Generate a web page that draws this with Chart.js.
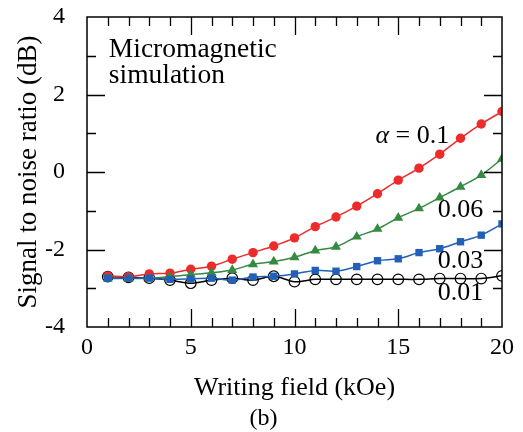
<!DOCTYPE html>
<html>
<head>
<meta charset="utf-8">
<script src="https://cdn.jsdelivr.net/npm/chart.js@4/dist/chart.umd.min.js"></script>
<style>
  html, body { margin: 0; padding: 0; background: #fff; }
  #wrap { width: 523px; height: 432px; }
</style>
</head>
<body>
<div id="wrap"><canvas id="c" width="523" height="432"></canvas></div>
<script>
// Writing field (kOe)
const fields = [1, 2, 3, 4, 5, 6, 7, 8, 9, 10, 11, 12, 13, 14, 15, 16, 17, 18, 19, 20];

// Signal to noise ratio (dB) for each damping constant
const snrAlpha010 = [-2.68, -2.70, -2.63, -2.61, -2.51, -2.43, -2.25, -2.08, -1.91, -1.70,
                     -1.41, -1.16, -0.88, -0.56, -0.21, 0.10, 0.46, 0.87, 1.24, 1.56];
const snrAlpha006 = [-2.75, -2.75, -2.74, -2.70, -2.65, -2.60, -2.53, -2.38, -2.31, -2.20,
                     -2.03, -1.93, -1.67, -1.47, -1.18, -0.94, -0.66, -0.38, -0.08, 0.34];
const snrAlpha003 = [-2.74, -2.74, -2.74, -2.77, -2.76, -2.74, -2.79, -2.71, -2.69, -2.63,
                     -2.54, -2.56, -2.44, -2.29, -2.24, -2.08, -1.98, -1.80, -1.63, -1.34];
const snrAlpha001 = [-2.70, -2.72, -2.74, -2.79, -2.87, -2.79, -2.74, -2.79, -2.69, -2.83,
                     -2.77, -2.77, -2.77, -2.77, -2.77, -2.77, -2.75, -2.75, -2.75, -2.68];

// Axis ranges and labelled tick values
const xRange = [0, 20];
const yRange = [-4, 4];
const xTickLabels = [0, 5, 10, 15, 20];
const yTickLabels = [-4, -2, 0, 2, 4];

// Curve labels: text and anchor (field, dB)
const curveLabels = [
  { parts: [['α', true], [' = 0.1', false]], at: [13.9, 0.75] },
  { parts: [['0.06', false]], at: [16.9, -1.17] },
  { parts: [['0.03', false]], at: [16.9, -2.49] },
  { parts: [['0.01', false]], at: [16.9, -3.30] }
];
const noteLines = ['Micromagnetic', 'simulation'];
const noteAt = [1.05, 2.97];
const panelTag = '(b)';

const SERIF = '"Liberation Serif", "Times New Roman", serif';
const RED = '#ee2b2b';
const GREEN = '#348a3f';
const BLUE = '#2160b6';
const BLACK = '#000000';

const toPoints = ys => fields.map((x, i) => ({ x: x, y: ys[i] }));

// Box frame with inward ticks on all four sides, plus text annotations
const framePlugin = {
  id: 'frame',
  afterDatasetsDraw(chart) {
    const { ctx, chartArea: a, scales } = chart;
    const xs = scales.x, ys = scales.y;
    ctx.save();
    ctx.strokeStyle = '#000';
    ctx.lineWidth = 1.5;
    ctx.strokeRect(a.left, a.top, a.right - a.left, a.bottom - a.top);
    ctx.lineWidth = 1.3;
    ctx.beginPath();
    for (let v = xRange[0] + 1; v < xRange[1]; v++) {
      const px = Math.round(xs.getPixelForValue(v)) + 0.5;
      const len = v % 5 === 0 ? 18 : 9;
      ctx.moveTo(px, a.bottom); ctx.lineTo(px, a.bottom - len);
      ctx.moveTo(px, a.top); ctx.lineTo(px, a.top + len);
    }
    for (let v = yRange[0] + 1; v < yRange[1]; v++) {
      const py = Math.round(ys.getPixelForValue(v)) + 0.5;
      const len = v % 2 === 0 ? 18 : 9;
      ctx.moveTo(a.left, py); ctx.lineTo(a.left + len, py);
      ctx.moveTo(a.right, py); ctx.lineTo(a.right - len, py);
    }
    ctx.stroke();

    ctx.fillStyle = '#000';
    ctx.textBaseline = 'alphabetic';
    ctx.textAlign = 'left';
    // note in the upper left corner
    ctx.font = '27.5px ' + SERIF;
    noteLines.forEach((t, i) => {
      ctx.fillText(t, xs.getPixelForValue(noteAt[0]), ys.getPixelForValue(noteAt[1]) + i * 26);
    });
    // damping constant labels beside each curve
    curveLabels.forEach(lab => {
      let px = xs.getPixelForValue(lab.at[0]);
      const py = ys.getPixelForValue(lab.at[1]);
      lab.parts.forEach(([t, italic]) => {
        ctx.font = (italic ? 'italic ' : '') + '26px ' + SERIF;
        ctx.fillText(t, px, py);
        px += ctx.measureText(t).width;
      });
    });
    // panel tag under the axis title
    ctx.textAlign = 'center';
    ctx.font = '24px ' + SERIF;
    ctx.fillText(panelTag, chart.width / 2 + 2, chart.height - 7);
    ctx.restore();
  }
};

// Let the layout padding alone decide the plot margins
const noEdgePadding = scale => {
  scale.paddingTop = 0; scale.paddingBottom = 0;
  scale.paddingLeft = 0; scale.paddingRight = 0;
};

new Chart(document.getElementById('c'), {
  type: 'line',
  data: {
    datasets: [
      {
        label: 'α = 0.03', data: toPoints(snrAlpha003), order: 0,
        borderColor: BLUE, backgroundColor: BLUE, borderWidth: 1.5,
        pointStyle: 'rect', pointRadius: 5.2, pointBorderWidth: 0, tension: 0.35
      },
      {
        label: 'α = 0.06', data: toPoints(snrAlpha006), order: 1,
        borderColor: GREEN, backgroundColor: GREEN, borderWidth: 1.5,
        pointStyle: 'triangle', pointRadius: 5.8, pointBorderWidth: 0, tension: 0.35
      },
      {
        label: 'α = 0.1', data: toPoints(snrAlpha010), order: 2,
        borderColor: RED, backgroundColor: RED, borderWidth: 1.5,
        pointStyle: 'circle', pointRadius: 4.7, pointBorderWidth: 0, tension: 0.35
      },
      {
        label: 'α = 0.01', data: toPoints(snrAlpha001), order: 3,
        borderColor: BLACK, backgroundColor: 'rgba(0,0,0,0)', borderWidth: 1.5,
        pointStyle: 'circle', pointRadius: 5.3, pointBorderWidth: 1.2, tension: 0.3
      }
    ]
  },
  options: {
    responsive: false,
    animation: false,
    devicePixelRatio: 1,
    layout: { padding: { left: 0, right: 21, top: 17, bottom: 28 } },
    plugins: {
      legend: { display: false },
      tooltip: { enabled: false },
      title: { display: false }
    },
    scales: {
      x: {
        type: 'linear', min: xRange[0], max: xRange[1],
        afterFit: noEdgePadding,
        grid: { drawOnChartArea: false, drawTicks: false },
        border: { display: false },
        ticks: {
          stepSize: 1, autoSkip: false, maxRotation: 0, padding: 6, color: '#000',
          font: { family: SERIF, size: 24 },
          callback: v => (xTickLabels.includes(v) ? String(v) : '')
        },
        title: {
          display: true, text: 'Writing field (kOe)', color: '#000',
          font: { family: SERIF, size: 26 }, padding: { top: 5, bottom: 0 }
        }
      },
      y: {
        type: 'linear', min: yRange[0], max: yRange[1],
        afterFit: scale => { noEdgePadding(scale); scale.width = 87; },
        grid: { drawOnChartArea: false, drawTicks: false },
        border: { display: false },
        ticks: {
          stepSize: 1, autoSkip: false, padding: 22, color: '#000',
          font: { family: SERIF, size: 24 },
          callback: v => (yTickLabels.includes(v) ? String(v) : '')
        },
        title: {
          display: true, text: 'Signal to noise ratio (dB)', color: '#000',
          font: { family: SERIF, size: 27, lineHeight: 1 }, padding: { top: 15, bottom: 0 }
        }
      }
    }
  },
  plugins: [framePlugin]
});
</script>
</body>
</html>
